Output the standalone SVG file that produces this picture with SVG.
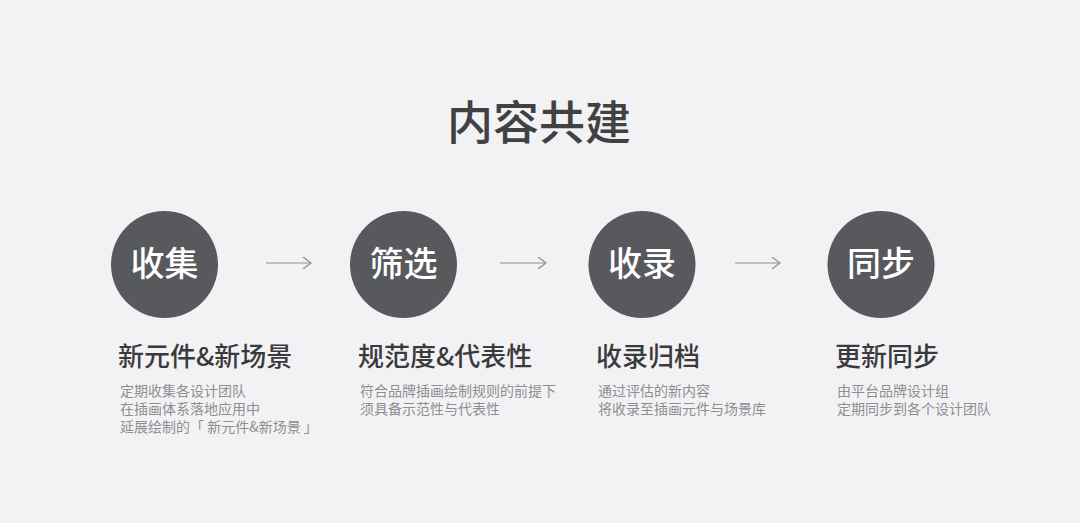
<svg xmlns="http://www.w3.org/2000/svg" width="1080" height="523" viewBox="0 0 1080 523">
<defs>
<style>
.t{font-family:"Noto Sans CJK SC","Noto Sans",sans-serif;}
.title{font-size:46px;fill:#414144;font-weight:500;}
.circ{fill:#58595c;}
.ct{font-size:34px;fill:#ffffff;text-anchor:middle;font-weight:500;}
.h{font-size:26px;fill:#3a3a3d;font-weight:500;}
.d{font-size:14px;fill:#8e8e91;}
.arr{stroke:#8e8e90;stroke-width:1.2;fill:none;}
</style>
<marker id="ah" viewBox="0 0 10 12" refX="9" refY="6" markerWidth="10" markerHeight="12" markerUnits="userSpaceOnUse" orient="auto">
<path d="M1,0 L9,6 L1,12" fill="none" stroke="#8e8e90" stroke-width="1.2"/>
</marker>
</defs>
<rect width="1080" height="523" fill="#f2f2f4"/>
<text class="t title" x="539" y="139" text-anchor="middle">内容共建</text>
<g id="connectors">
<line class="arr" x1="266" y1="263" x2="311" y2="263" marker-end="url(#ah)"/>
<line class="arr" x1="500" y1="263" x2="546" y2="263" marker-end="url(#ah)"/>
<line class="arr" x1="735" y1="263" x2="780" y2="263" marker-end="url(#ah)"/>
</g>
<g id="node1">
<circle class="circ" cx="164.5" cy="264.5" r="53.5"/>
<text class="t ct" x="164.5" y="276">收集</text>
<text class="t h" x="118" y="366">新元件&amp;新场景</text>
<text class="t d" x="120" y="396">定期收集各设计团队</text>
<text class="t d" x="120" y="414">在插画体系落地应用中</text>
<text class="t d" x="120" y="432">延展绘制的「 新元件&amp;新场景 」</text>
</g>
<g id="node2">
<circle class="circ" cx="403.5" cy="264.5" r="53.5"/>
<text class="t ct" x="403.5" y="276">筛选</text>
<text class="t h" x="358" y="366">规范度&amp;代表性</text>
<text class="t d" x="360" y="396">符合品牌插画绘制规则的前提下</text>
<text class="t d" x="360" y="414">须具备示范性与代表性</text>
</g>
<g id="node3">
<circle class="circ" cx="642" cy="264.5" r="53.5"/>
<text class="t ct" x="642" y="276">收录</text>
<text class="t h" x="596" y="366">收录归档</text>
<text class="t d" x="598" y="396">通过评估的新内容</text>
<text class="t d" x="598" y="414">将收录至插画元件与场景库</text>
</g>
<g id="node4">
<circle class="circ" cx="881" cy="264.5" r="53.5"/>
<text class="t ct" x="881" y="276">同步</text>
<text class="t h" x="835" y="366">更新同步</text>
<text class="t d" x="837" y="396">由平台品牌设计组</text>
<text class="t d" x="837" y="414">定期同步到各个设计团队</text>
</g>
</svg>
